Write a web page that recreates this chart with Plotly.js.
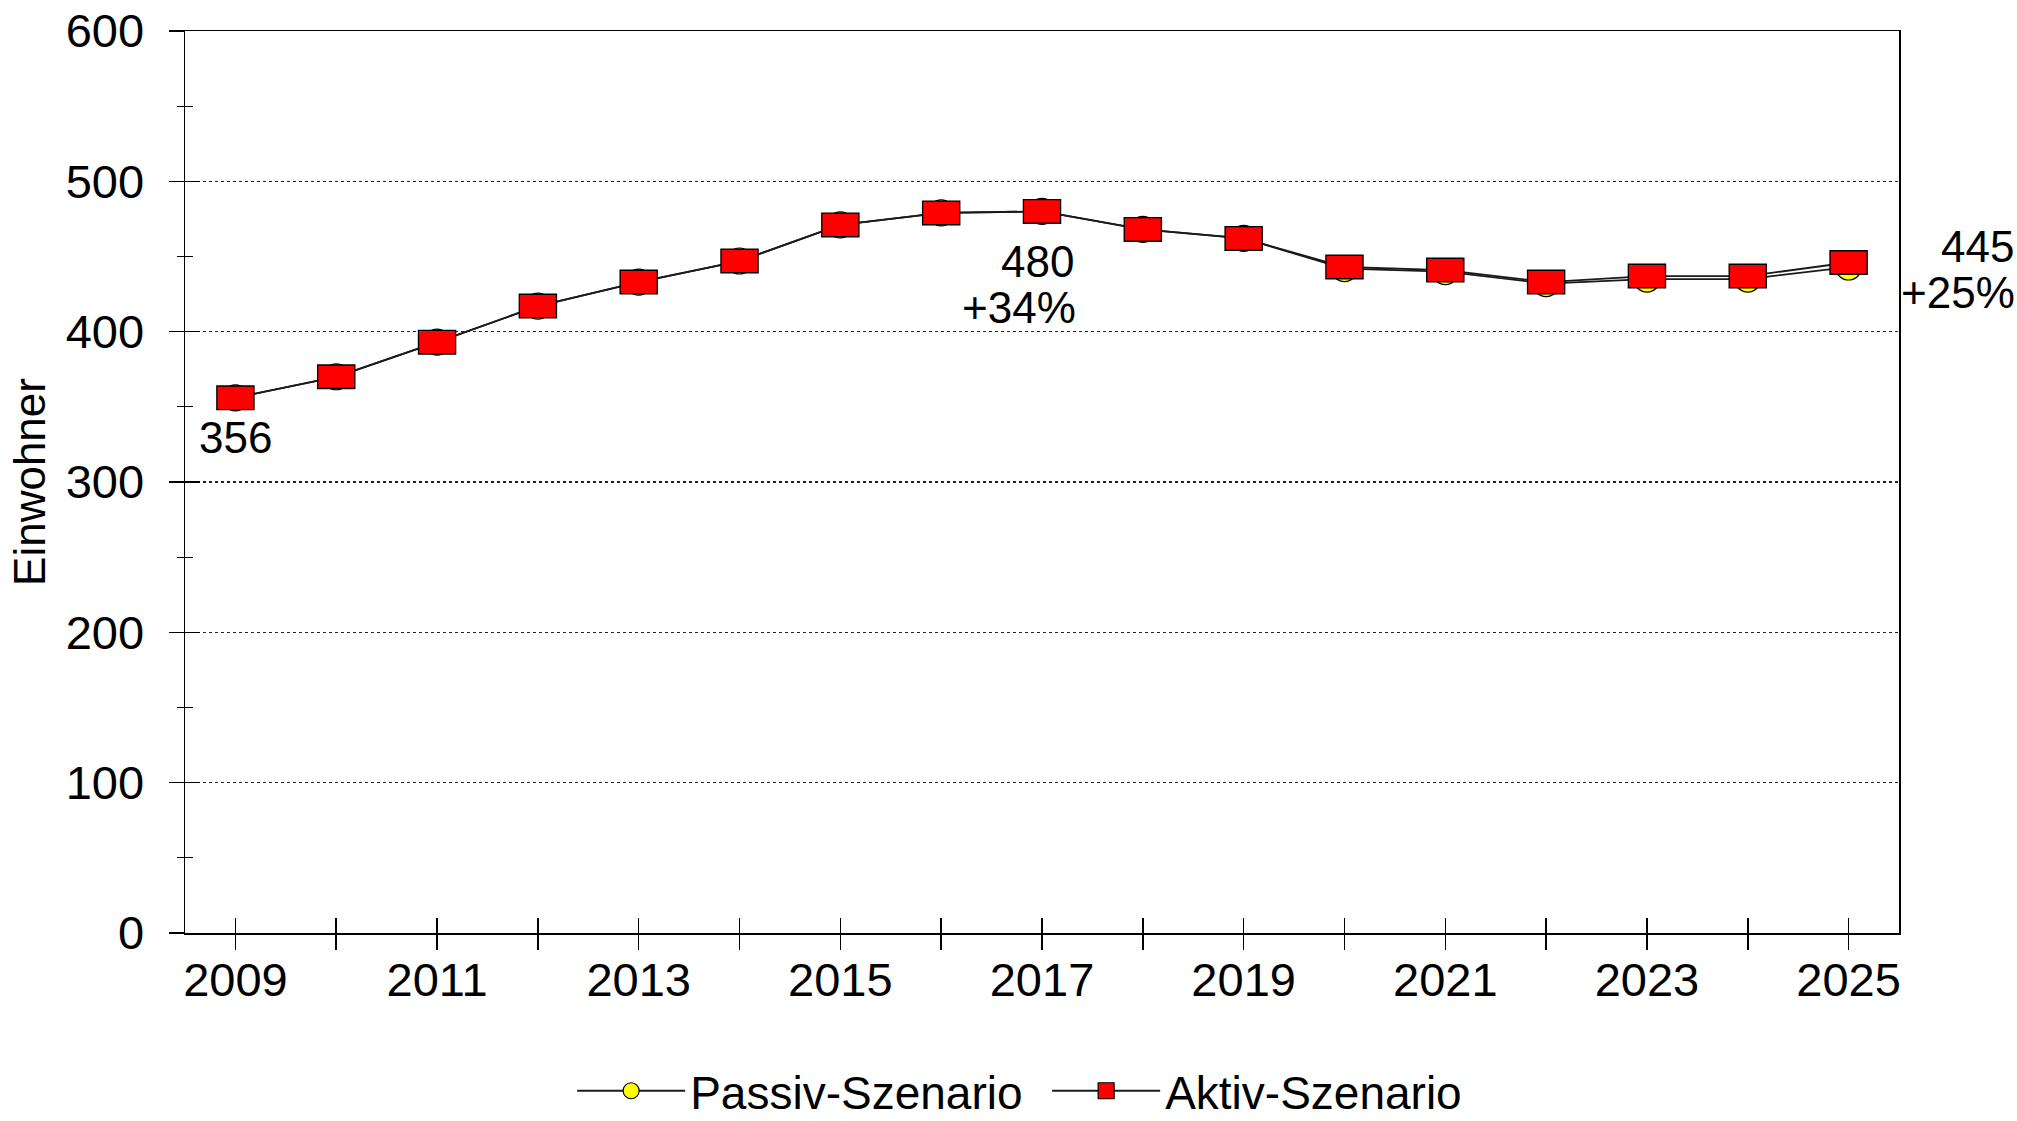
<!DOCTYPE html>
<html>
<head>
<meta charset="utf-8">
<script src="https://cdn.plot.ly/plotly-3.0.1.min.js"></script>
<style>html,body{margin:0;padding:0;background:#fff;}#chart{width:2017px;height:1121px;}</style>
</head>
<body>
<div id="chart"></div>
<script>
// ---- data ----
const years = [2009, 2010, 2011, 2012, 2013, 2014, 2015, 2016, 2017, 2018, 2019, 2020, 2021, 2022, 2023, 2024, 2025];
const aktiv = [356, 370, 393, 417, 433, 447, 471, 479, 480, 468, 462, 443, 441, 433, 437, 437, 446];
const passiv = [356, 370, 393, 417, 433, 447, 471, 479, 480, 468, 462, 442, 440, 432, 435, 435, 443];
const xTickLabels = ['2009', '', '2011', '', '2013', '', '2015', '', '2017', '', '2019', '', '2021', '', '2023', '', '2025'];
const seriesNames = ['Passiv-Szenario', 'Aktiv-Szenario'];
const yTitle = 'Einwohner';
// labels: [index, value text, change text]
const pointLabels = [
  {i: 0, value: '356', change: ''},
  {i: 8, value: '480', change: '+34%'},
  {i: 16, value: '445', change: '+25%'}
];

const FONT = 'Liberation Sans, Arial, sans-serif';
const FS = 44;
const TICKFS = 47;

const traces = [
  {
    x: years, y: passiv, name: seriesNames[0], type: 'scatter', mode: 'lines+markers',
    xaxis: 'x', yaxis: 'y',
    line: {color: '#1a1a1a', width: 1.8},
    marker: {symbol: 'circle', size: 26, color: '#ffff00', line: {color: '#000', width: 1.2}}
  },
  {
    x: years, y: aktiv, name: seriesNames[1], type: 'scatter', mode: 'lines+markers',
    xaxis: 'x2', yaxis: 'y2',
    line: {color: '#1a1a1a', width: 1.8},
    marker: {symbol: 'square', size: 16, color: '#ff0000', line: {color: '#000', width: 1.2}}
  },
  {
    x: years, y: aktiv, showlegend: false, type: 'scatter', mode: 'markers', hoverinfo: 'skip',
    xaxis: 'x2', yaxis: 'y2',
    marker: {symbol: 'line-ew', size: 27.5, color: '#000', line: {color: '#000', width: 25}}
  },
  {
    x: years, y: aktiv, showlegend: false, type: 'scatter', mode: 'markers', hoverinfo: 'skip',
    xaxis: 'x2', yaxis: 'y2',
    marker: {symbol: 'line-ew', size: 25.6, color: '#ff0000', line: {color: '#ff0000', width: 22.2}}
  }
];

const annotations = [];
pointLabels.forEach(function (p) {
  const last = p.i === years.length - 1;
  if (p.i === 0) {
    annotations.push({xref: 'x', yref: 'y', x: years[p.i], y: aktiv[p.i], text: p.value, showarrow: false,
      xanchor: 'center', yanchor: 'middle', yshift: -40, font: {family: FONT, size: FS, color: '#000'}});
  } else if (!last) {
    annotations.push({xref: 'x', yref: 'y', x: years[p.i], y: aktiv[p.i], text: p.value, showarrow: false,
      xanchor: 'right', yanchor: 'middle', xshift: 34, yshift: -50, font: {family: FONT, size: FS, color: '#000'}});
    annotations.push({xref: 'x', yref: 'y', x: years[p.i], y: aktiv[p.i], text: p.change, showarrow: false,
      xanchor: 'right', yanchor: 'middle', xshift: 36, yshift: -96, font: {family: FONT, size: FS, color: '#000'}});
  } else {
    annotations.push({xref: 'x', yref: 'y', x: years[p.i], y: aktiv[p.i], text: p.value, showarrow: false,
      xanchor: 'right', yanchor: 'middle', xshift: 167, yshift: 16, font: {family: FONT, size: FS, color: '#000'}});
    annotations.push({xref: 'x', yref: 'y', x: years[p.i], y: aktiv[p.i], text: p.change, showarrow: false,
      xanchor: 'right', yanchor: 'middle', xshift: 168, yshift: -30, font: {family: FONT, size: FS, color: '#000'}});
  }
});

const xRange = [2008.5, 2025.5];
const yRange = [0, 600];

const layout = {
  width: 2017, height: 1121,
  margin: {l: 185, r: 118, t: 31, b: 188, autoexpand: false},
  paper_bgcolor: '#fff', plot_bgcolor: '#fff',
  font: {family: FONT, size: FS, color: '#000'},
  showlegend: true,
  legend: {orientation: 'h', x: 0.503, xanchor: 'center', y: -0.175, yanchor: 'middle',
    font: {family: FONT, size: 46, color: '#000'}, itemwidth: 108, entrywidth: 352, bgcolor: 'rgba(0,0,0,0)'},
  xaxis: {
    range: xRange, tickmode: 'array', tickvals: years, ticktext: xTickLabels,
    ticks: 'outside', ticklen: 15, tickwidth: 1.5, tickcolor: '#000',
    showline: true, linecolor: '#000', linewidth: 1.5, mirror: true,
    showgrid: false, zeroline: false, ticklabelstandoff: -10, automargin: false,
    tickfont: {family: FONT, size: TICKFS, color: '#000'}, fixedrange: true
  },
  xaxis2: {
    overlaying: 'x', anchor: 'y2', range: xRange, tickmode: 'array', tickvals: years,
    ticks: 'inside', ticklen: 15, tickwidth: 1.5, tickcolor: '#000', automargin: false,
    showticklabels: false, showline: false, showgrid: false, zeroline: false, fixedrange: true
  },
  yaxis: {
    range: yRange, dtick: 100, tick0: 0,
    ticks: 'outside', ticklen: 15, tickwidth: 1.5, tickcolor: '#000',
    minor: {dtick: 50, ticks: 'outside', ticklen: 7, tickwidth: 1.2, tickcolor: '#000', showgrid: false},
    showline: true, linecolor: '#000', linewidth: 1.5, mirror: true,
    showgrid: true, gridcolor: '#222', gridwidth: 1.3, griddash: 'dot', zeroline: false,
    ticklabelstandoff: 15, automargin: false,
    title: {text: yTitle, font: {family: FONT, size: FS, color: '#000'}, standoff: 6},
    tickfont: {family: FONT, size: TICKFS, color: '#000'}, fixedrange: true
  },
  yaxis2: {
    overlaying: 'y', anchor: 'x2', range: yRange, dtick: 100, tick0: 0,
    ticks: 'inside', ticklen: 15, tickwidth: 1.5, tickcolor: '#000', automargin: false,
    minor: {dtick: 50, ticks: 'inside', ticklen: 8, tickwidth: 1.2, tickcolor: '#000', showgrid: false},
    showticklabels: false, showline: false, showgrid: false, zeroline: false, fixedrange: true
  },
  annotations: annotations
};

Plotly.newPlot('chart', traces, layout, {staticPlot: true, displayModeBar: false});
</script>
</body>
</html>
